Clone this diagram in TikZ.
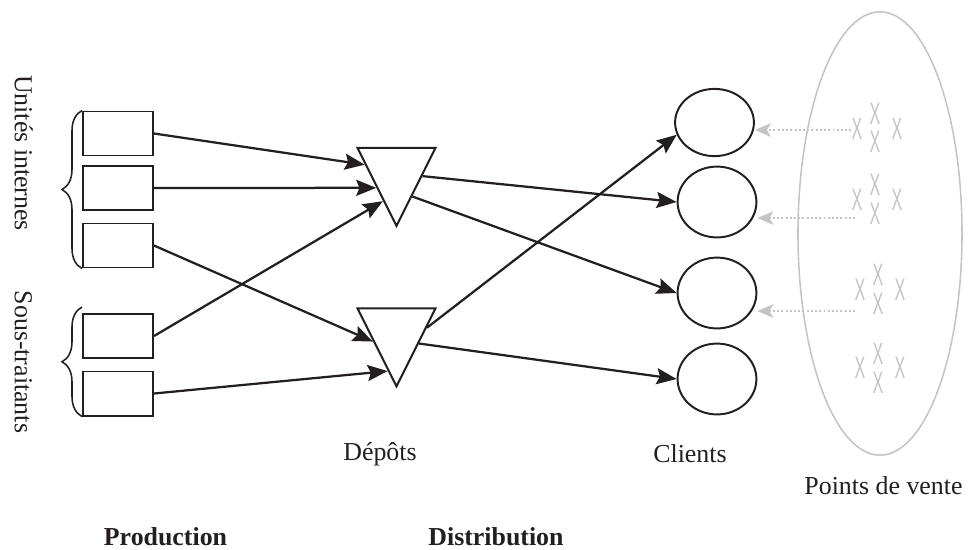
\documentclass[tikz,border=0pt]{standalone}
\usepackage{fontspec}
\setmainfont{Liberation Serif}
\newfontfamily\xfont{Liberation Sans}
\usetikzlibrary{shapes.geometric,arrows.meta,decorations.pathreplacing}
\definecolor{ink}{RGB}{35,31,32}
\definecolor{pvgray}{RGB}{196,196,196}
\tikzset{ box/.style = { rectangle % unite de production
        , draw = ink
        , line width = 1.4pt
        , minimum width = 1.75cm
        , minimum height = 1.1cm
        , inner sep = 0pt
        }
        , depot/.style = { isosceles triangle % depot
        , shape border rotate = 270
        , isosceles triangle stretches
        , draw = ink
        , line width = 1.4pt
        , minimum width = 1.95cm
        , minimum height = 1.95cm
        , inner sep = 0pt
        }
        , client/.style = { ellipse % client
        , draw = ink
        , line width = 1.4pt
        , minimum width = 1.97cm
        , minimum height = 1.77cm
        , inner sep = 0pt
        }
        , xm/.style = { rectangle % point de vente
        , inner sep = 0pt
        , text height = 15.8pt
        , text depth = 0pt
        , text = pvgray
        , font = \xfont\fontsize{22}{22}\selectfont
        }
        }

\begin{document}
\begin{tikzpicture}[x=0.025cm, y=-0.025cm,
        arr/.style={draw=ink, line width=1.6pt, -{Stealth[length=0.5cm,width=0.4cm,inset=0.08cm]}},
        dot_arr/.style={draw=pvgray, line width=1.2pt, dash pattern=on 1.4pt off 1.6pt, -{Stealth[length=0.4cm,width=0.34cm,inset=0.1cm,sep=0pt]}},
        lbl/.style={font=\fontsize{18.4}{22}\selectfont, text=ink, anchor=base, inner sep=0pt},
        lbl_bold/.style={lbl, font=\fontsize{18.4}{22}\selectfont\bfseries},
        brace_style/.style={draw=ink, line width=1.1pt, decorate, decoration={brace, amplitude=0.5cm}}]
        \useasboundingbox (0,0) rectangle (968,549);

        \node [box](b1) at (118,133.5) {};
        \node [box](b2) at (118,188) {};
        \node [box](b3) at (118,245.5) {};
        \node [box](b4) at (118,336) {};
        \node [box](b5) at (118,393.5) {};
        \draw [brace_style] (b3.south west) -- (b1.north west);
        \draw [brace_style] (b5.south west) -- ([yshift=0.15cm]b4.north west);
        \node [lbl,rotate=-90](ui) at (15,153) {Unités internes};
        \node [lbl,rotate=-90](st) at (15,362) {Sous-traitants};

        \node [depot](t1) at (396.5,172) {};
        \node [depot](t2) at (396.5,332.5) {};

        \node [client,minimum height=1.68cm](c1) at (714.5,122.5) {};
        \node [client](c2) at (717,202) {};
        \node [client](c3) at (717,293) {};
        \node [client](c4) at (717,379) {};

        \node [ellipse,draw=pvgray,line width=1.1pt,minimum width=4.1cm,minimum height=11.08cm](pv) at (880,233.5) {};
        \node [xm](g1a) at (857,128) {\scalebox{0.52}[1]{X}};
        \node [xm](g1b) at (875,113) {\scalebox{0.52}[1]{X}};
        \node [xm](g1c) at (875,141.5) {\scalebox{0.52}[1]{X}};
        \node [xm](g1d) at (897,128) {\scalebox{0.52}[1]{X}};
        \node [xm](g2a) at (857,199) {\scalebox{0.52}[1]{X}};
        \node [xm](g2b) at (875,184.5) {\scalebox{0.52}[1]{X}};
        \node [xm](g2c) at (875,213) {\scalebox{0.52}[1]{X}};
        \node [xm](g2d) at (897,199) {\scalebox{0.52}[1]{X}};
        \node [xm](g3a) at (860,289) {\scalebox{0.52}[1]{X}};
        \node [xm](g3b) at (878,274.5) {\scalebox{0.52}[1]{X}};
        \node [xm](g3c) at (878,303) {\scalebox{0.52}[1]{X}};
        \node [xm](g3d) at (900,289) {\scalebox{0.52}[1]{X}};
        \node [xm](g4a) at (860,367) {\scalebox{0.52}[1]{X}};
        \node [xm](g4b) at (878,353.5) {\scalebox{0.52}[1]{X}};
        \node [xm](g4c) at (878,382) {\scalebox{0.52}[1]{X}};
        \node [xm](g4d) at (900,367) {\scalebox{0.52}[1]{X}};
        \coordinate (s2) at (855,218);
        \coordinate (s3) at (855,311);

        \draw [arr] (b1.east) -- (t1.167);
        \draw [arr] (b2.east) -- (t1.218);
        \draw [arr] (b4.east) -- (t1.245);
        \draw [arr] (b3.east) -- (t2.201);
        \draw [arr] (b5.east) -- (t2.257);
        \draw [arr] (t1.351) -- (c2.west);
        \draw [arr] (t1.303) -- (c3.west);
        \draw [arr] (t2.9) -- (c1.198);
        \draw [arr] (t2.334) -- (c4.west);

        \draw [dot_arr] ([yshift=-0.05cm]g1a.west) -- ([yshift=-0.05cm]g1a.west -| c1.east);
        \draw [dot_arr] (s2) -- (s2 -| c2.east);
        \draw [dot_arr] (s3) -- (s3 -| c3.east);

        \node [lbl](dep) at (380,460) {Dépôts};
        \node [lbl](cli) at (690,462) {Clients};
        \node [lbl](pdv) at (883.5,494) {Points de vente};
        \node [lbl_bold](prod) at (165.5,545) {Production};
        \node [lbl_bold](dist) at (496,545) {Distribution};
\end{tikzpicture}
\end{document}
